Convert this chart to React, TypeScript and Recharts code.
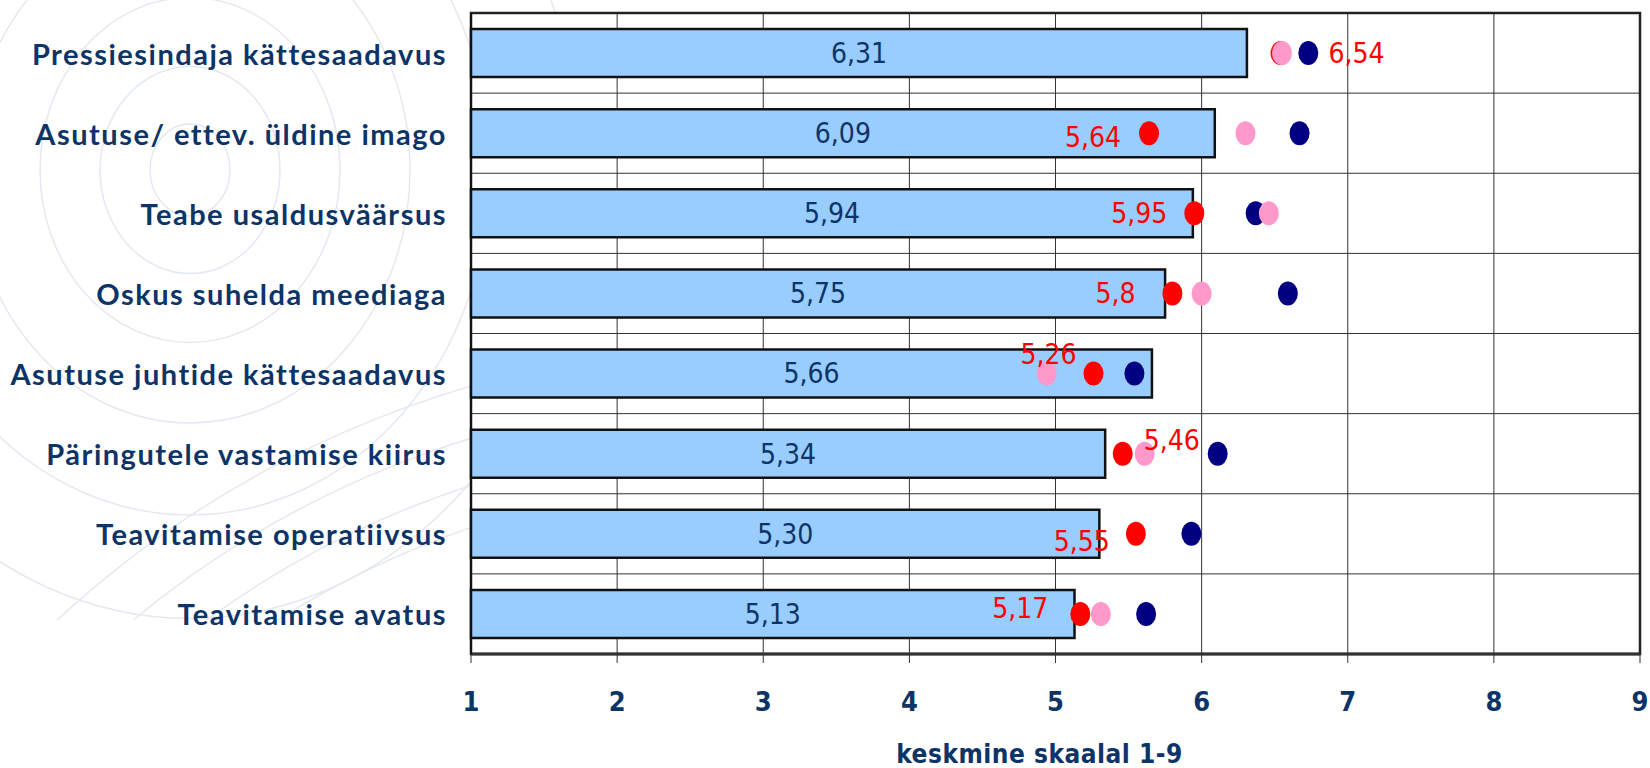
import React from 'react'
import { ComposedChart, Bar, Scatter, XAxis, YAxis, CartesianGrid, LabelList, ReferenceArea } from 'recharts'

const categories = [
    'Pressiesindaja kättesaadavus',
    'Asutuse/ ettev. üldine imago',
    'Teabe usaldusväärsus',
    'Oskus suhelda meediaga',
    'Asutuse juhtide kättesaadavus',
    'Päringutele vastamise kiirus',
    'Teavitamise operatiivsus',
    'Teavitamise avatus',
]

const barValues = [6.31, 6.09, 5.94, 5.75, 5.66, 5.34, 5.3, 5.13]
const redValues = [6.54, 5.64, 5.95, 5.8, 5.26, 5.46, 5.55, 5.17]
const pinkValues = [6.55, 6.3, 6.46, 6.0, 4.94, 5.61, null, 5.31]
const navyValues = [6.73, 6.67, 6.37, 6.59, 5.54, 6.11, 5.93, 5.62]

const xTicks = [1, 2, 3, 4, 5, 6, 7, 8, 9]
const axisTitle = 'keskmine skaalal 1-9'

const data = categories.map((name, i) => ({
    name,
    bar: barValues[i],
    red: redValues[i],
    pink: pinkValues[i],
    navy: navyValues[i],
}))

// where each red value label sits relative to its dot
const redLabelOffsets = [
    [76, 0], [-56, 4], [-55, 0], [-57, 0], [-45, -19], [49, -13], [-54, 8], [-60, -5],
]

const NAVY_TEXT = '#0d3467'
const NARROW = "'DejaVu Sans Condensed', 'DejaVu Sans', sans-serif"

const makeDot = (key: string, color: string) => (props: any) => {
    const { cx, cy, payload } = props
    if (payload == null || payload[key] == null || cx == null || isNaN(cx)) return <g />
    return <ellipse cx={cx} cy={cy} rx={10} ry={12} fill={color} />
}

const CategoryTick = ({ x, y, payload }: any) => (
    <text
        x={x}
        y={y}
        textAnchor="end"
        dominantBaseline="central"
        fontFamily="Lato, 'Open Sans', sans-serif"
        fontWeight={700}
        fontSize={29}
        letterSpacing={1.5}
        fill={NAVY_TEXT}
    >
        {payload.value}
    </text>
)

const NumberTick = ({ x, y, payload }: any) => (
    <text
        x={x}
        y={y}
        dy={38}
        textAnchor="middle"
        dominantBaseline="central"
        fontFamily={NARROW}
        fontStretch="condensed"
        fontWeight={700}
        fontSize={27}
        fill={NAVY_TEXT}
    >
        {payload.value}
    </text>
)

const RedLabel = (props: any) => {
    const { x, y, width, height, value, index } = props
    if (value == null) return null
    const [dx, dy] = redLabelOffsets[index] || [0, 0]
    const cx = x + (width || 0) / 2
    const cy = y + (height || 0) / 2
    return (
        <text
            x={cx + dx}
            y={cy + dy}
            textAnchor="middle"
            dominantBaseline="central"
            fontFamily={NARROW}
            fontStretch="condensed"
            fontSize={28}
            fill="#ff0000"
        >
            {String(value).replace('.', ',')}
        </text>
    )
}

// faint globe-like watermark behind the labels (left side only)
const Watermark = () => (
    <svg width={1650} height={768} style={{ position: 'absolute', left: 0, top: 0 }}>
        <defs>
            <clipPath id="wm-clip">
                <rect x={0} y={0} width={560} height={620} />
            </clipPath>
        </defs>
        <g fill="none" stroke="#e4e9ef" strokeWidth={1.5} clipPath="url(#wm-clip)">
            {[40, 90, 150, 220, 300, 390].map((r) => (
                <ellipse key={r} cx={190} cy={170} rx={r} ry={r * 1.15} />
            ))}
            {[900, 940, 985, 1035].map((r) => (
                <circle key={r} cx={760} cy={1380} r={r} />
            ))}
        </g>
    </svg>
)

const App = () => {
    return (
        <div style={{ position: 'absolute', left: 0, top: 0, width: 1650, height: 768, background: '#fff' }}>
            <Watermark />
            <div style={{ position: 'absolute', left: 0, top: 0 }}>
                <ComposedChart
                    width={1650}
                    height={768}
                    layout="vertical"
                    data={data}
                    margin={{ top: 13, right: 10, bottom: 0, left: 0 }}
                >
                    <CartesianGrid
                        stroke="#333"
                        strokeWidth={1}
                        fill="#ffffff"
                        fillOpacity={1}
                        horizontalCoordinatesGenerator={({ offset }: any) =>
                            categories.map((_, k) => offset.top + (k * offset.height) / categories.length)
                        }
                    />
                    <XAxis
                        type="number"
                        domain={[1, 9]}
                        ticks={xTicks}
                        interval={0}
                        height={114}
                        tickSize={9}
                        tickMargin={0}
                        tick={<NumberTick />}
                        tickLine={{ stroke: '#333' }}
                        axisLine={{ stroke: '#333', strokeWidth: 3 }}
                        label={{
                            content: ({ viewBox }: any) => (
                                <text
                                    x={viewBox.x + viewBox.width / 2 - 16}
                                    y={viewBox.y + 100}
                                    textAnchor="middle"
                                    dominantBaseline="central"
                                    fontFamily={NARROW}
                                    fontStretch="condensed"
                                    fontWeight={700}
                                    fontSize={26}
                                    letterSpacing={0.5}
                                    fill={NAVY_TEXT}
                                >
                                    {axisTitle}
                                </text>
                            ),
                        }}
                    />
                    <YAxis
                        type="category"
                        dataKey="name"
                        width={471}
                        tickSize={0}
                        tickMargin={24}
                        tick={<CategoryTick />}
                        axisLine={{ stroke: '#111', strokeWidth: 2 }}
                        tickLine={false}
                    />
                    <Bar dataKey="bar" barSize={48} fill="#99ccff" stroke="#111" strokeWidth={2.5} isAnimationActive={false}>
                        <LabelList
                            dataKey="bar"
                            position="center"
                            formatter={(v: any) => Number(v).toFixed(2).replace('.', ',')}
                            style={{ fontFamily: NARROW, fontStretch: 'condensed', fontSize: 28, fill: NAVY_TEXT }}
                        />
                    </Bar>
                    <Scatter dataKey="navy" shape={makeDot('navy', '#000080')} isAnimationActive={false} />
                    <Scatter dataKey="red" shape={makeDot('red', '#ff0000')} isAnimationActive={false}>
                        <LabelList dataKey="red" content={<RedLabel />} />
                    </Scatter>
                    <Scatter dataKey="pink" shape={makeDot('pink', '#ff99cc')} isAnimationActive={false} />
                    <ReferenceArea x1={1} x2={9} fill="none" stroke="#222" strokeWidth={2.5} />
                </ComposedChart>
            </div>
        </div>
    )
}

export default App
